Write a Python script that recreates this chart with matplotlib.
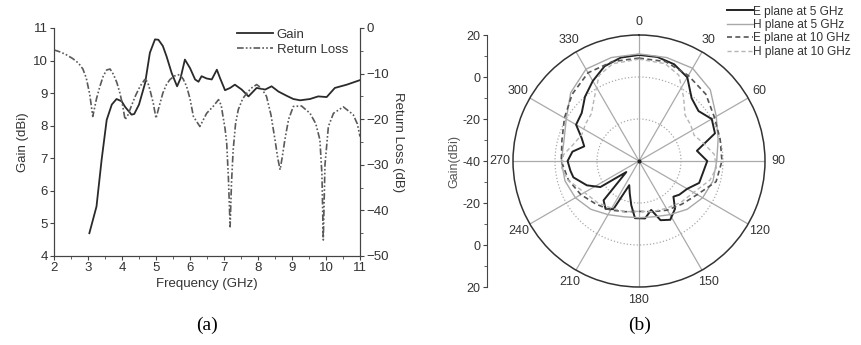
import numpy as np
import matplotlib.pyplot as plt
from matplotlib.ticker import MultipleLocator

plt.rcParams['font.family'] = ['Liberation Sans', 'DejaVu Sans']

# ---- (a) gain and return loss ----
freq_gain = [3.04, 3.25, 3.40, 3.55, 3.70, 3.84, 3.99, 4.09, 4.28, 4.36, 4.50,
             4.68, 4.82, 4.97, 5.07, 5.20, 5.31, 5.46, 5.62, 5.72, 5.85, 6.00,
             6.15, 6.25, 6.34, 6.49, 6.64, 6.79, 6.88, 7.03, 7.18, 7.32, 7.52,
             7.72, 7.96, 8.21, 8.40, 8.60, 8.84, 9.04, 9.24, 9.53, 9.77, 10.02,
             10.26, 10.61, 11.0]
gain = [4.70, 5.52, 6.95, 8.18, 8.65, 8.82, 8.75, 8.58, 8.34, 8.36, 8.65,
        9.31, 10.24, 10.65, 10.64, 10.45, 10.13, 9.62, 9.21, 9.45, 10.03, 9.77,
        9.42, 9.35, 9.52, 9.45, 9.42, 9.72, 9.47, 9.09, 9.16, 9.26, 9.11,
        8.90, 9.16, 9.11, 9.21, 9.05, 8.92, 8.82, 8.78, 8.82, 8.90, 8.88,
        9.16, 9.26, 9.40]

freq_rl = [2.0, 2.2, 2.37, 2.55, 2.72, 2.85, 2.95, 3.05, 3.14, 3.25, 3.35, 3.45,
           3.55, 3.65, 3.75, 3.85, 3.94, 4.02, 4.09, 4.18, 4.27, 4.40, 4.53,
           4.67, 4.75, 4.82, 4.92, 5.0, 5.1, 5.2, 5.3, 5.41, 5.55, 5.7, 5.8,
           5.9, 6.0, 6.1, 6.29, 6.49, 6.68, 6.84, 6.92, 6.97, 7.03, 7.08,
           7.13, 7.18, 7.22, 7.27, 7.34, 7.42, 7.55, 7.67, 7.8, 7.96, 8.1,
           8.25, 8.38, 8.5, 8.58, 8.65, 8.72, 8.79, 8.9, 9.04, 9.28, 9.53,
           9.7, 9.82, 9.88, 9.92, 9.97, 10.07, 10.22, 10.51, 10.8, 10.92, 11.0]
rl = [-4.8, -5.3, -5.9, -6.7, -7.7, -9.0, -11.0, -14.5, -19.4, -15.5, -12.8, -10.5,
      -9.2, -9.0, -10.2, -12.0, -14.3, -17.0, -20.1, -19.0, -17.2, -14.8, -12.8,
      -11.3, -11.8, -13.5, -16.5, -19.8, -17.0, -14.3, -12.5, -11.3, -10.5, -10.2, -11.2,
      -12.8, -15.5, -19.4, -21.6, -18.7, -17.2, -15.7, -17.0, -19.4, -22.0, -25.3,
      -33.0, -43.6, -34.0, -26.7, -21.0, -17.9, -15.5, -14.3, -13.2, -12.4, -13.2,
      -15.0, -19.0, -24.5, -28.5, -31.1, -28.0, -24.5, -20.0, -17.2, -17.1, -18.7,
      -21.0, -24.5, -32.0, -46.5, -30.0, -21.6, -18.7, -17.3, -19.0, -21.0, -23.8]

# ---- (b) radiation patterns ----
ang_e5 = [0, 10, 20, 30, 40, 50, 60, 70, 80, 90, 100, 110, 120, 130, 136, 143,
          152, 160, 166, 174, 184, 190, 196, 202, 208, 215, 222, 229, 236, 245,
          256, 262, 270, 278, 285, 292, 300, 310, 320, 330, 340, 350, 360]
e5 = [10.5, 10.3, 9.0, 6.0, -1.0, -3.0, 0.0, -1.5, -12.0, -7.5, -9.0, -9.5,
      -13.5, -15.0, -16.4, -11.5, -8.3, -10.0, -16.0, -12.5, -12.7, -18.7,
      -24.0, -27.6, -14.0, -12.2, -14.8, -32.0, -17.8, -12.6, -7.8, -7.0,
      -6.0, -8.0, -13.0, -10.5, -5.4, -4.4, 0.0, 4.0, 8.0, 10.0, 10.5]

ang_h5 = [0, 15, 30, 45, 60, 75, 90, 105, 120, 135, 150, 165, 180, 195, 210,
          225, 240, 255, 270, 285, 300, 315, 330, 345, 360]
h5 = [11.0, 11.0, 11.0, 8.0, 2.5, -1.0, -3.0, -3.5, -5.0, -7.5, -10.5, -12.5,
      -13.0, -12.5, -10.5, -7.5, -5.0, -3.5, -3.0, -3.0, 0.0, 6.0, 10.5, 11.0, 11.0]

ang_e10 = [0, 15, 30, 45, 60, 75, 90, 105, 120, 135, 150, 165, 180, 195, 210,
           225, 240, 255, 270, 285, 300, 315, 330, 345, 360]
e10 = [9.0, 9.0, 7.0, 5.0, 1.5, 0.0, -0.5, -2.0, -8.0, -11.0, -13.0, -15.0,
       -16.0, -15.0, -13.0, -11.0, -8.0, -5.2, -3.0, -2.0, 1.0, 5.0, 8.5, 9.0, 9.0]

ang_h10 = [0, 15, 25, 35, 45, 55, 65, 75, 85, 95, 105, 120, 135, 150, 165, 180,
           195, 210, 225, 240, 255, 265, 275, 285, 295, 305, 315, 325, 335, 345, 360]
h10 = [8.5, 8.0, 5.0, -3.0, -9.0, -10.0, -11.0, -8.0, -4.0, -3.0, -5.0, -10.0,
       -12.0, -14.0, -15.0, -16.0, -15.0, -14.0, -12.0, -10.0, -5.0, -3.0, -4.0,
       -8.0, -10.0, -9.0, -8.0, -3.0, 5.0, 8.0, 8.5]

r_ticks = [20, 0, -20, -40, -20, 0, 20]
theta_labels = ['0', '30', '60', '90', '120', '150', '180', '210', '240', '270', '300', '330']

W, H = 862, 345
fig = plt.figure(figsize=(W / 100, H / 100), dpi=100)
txt = '#333333'
fs = 9.5

ax = fig.add_axes([54 / W, 1 - 256 / H, 306 / W, 228 / H])
ax.plot(freq_gain, gain, color='#2a2a2a', lw=1.3, label='Gain')
ax.set_xlim(2, 11)
ax.set_ylim(4, 11)
ax.xaxis.set_major_locator(MultipleLocator(1))
ax.xaxis.set_minor_locator(MultipleLocator(0.5))
ax.yaxis.set_major_locator(MultipleLocator(1))
ax.set_xlabel('Frequency (GHz)', fontsize=fs, color=txt, labelpad=3)
ax.set_ylabel('Gain (dBi)', fontsize=fs, color=txt, labelpad=3)
ax.spines['top'].set_visible(False)

ax2 = ax.twinx()
ax2.plot(freq_rl, rl, color='#5a5a5a', lw=1.2,
         linestyle=(0, (4, 1.3, 1, 1.3, 1, 1.3)), label='Return Loss')
ax2.set_ylim(-50, 0)
ax2.yaxis.set_major_locator(MultipleLocator(10))
ax2.yaxis.set_minor_locator(MultipleLocator(5))
ax2.set_ylabel('Return Loss (dB)', fontsize=fs, color=txt, rotation=-90, labelpad=11)
ax2.spines['top'].set_visible(False)

for a in (ax, ax2):
    for s in a.spines.values():
        s.set_color('#444444')
    a.tick_params(which='both', direction='out', colors='#444444', labelsize=fs,
                  labelcolor=txt, pad=1.5)
    a.tick_params(which='major', length=3)
    a.tick_params(which='minor', length=2)

h1, l1 = ax.get_legend_handles_labels()
h2, l2 = ax2.get_legend_handles_labels()
ax2.legend(h1 + h2, l1 + l2, loc='upper right', bbox_to_anchor=(1.0, 1.05),
           frameon=False, fontsize=fs, handlelength=2.7, handletextpad=0.3,
           labelspacing=0.2, labelcolor=txt)

# polar
R = 126
cx, cy = 639, 161
pax = fig.add_axes([(cx - R) / W, (H - cy - R) / H, 2 * R / W, 2 * R / H],
                   projection='polar')
pax.set_theta_zero_location('N')
pax.set_theta_direction(-1)
pax.set_ylim(-40, 20)
pax.set_yticks([-20, 0])
pax.set_yticklabels([])
pax.yaxis.grid(True, color='#aaaaaa', linestyle=':', lw=0.9)
pax.set_xticks(np.deg2rad(np.arange(0, 360, 30)))
pax.set_xticklabels(theta_labels, fontsize=9, color=txt)
pax.xaxis.grid(True, color='#aaaaaa', linestyle='-', lw=0.9)
pax.tick_params(axis='x', pad=-1)
pax.spines['polar'].set_color('#333333')
pax.spines['polar'].set_linewidth(1.1)

pax.plot(np.deg2rad(ang_e5), e5, color='#222222', lw=1.4, label='E plane at 5 GHz')
pax.plot(np.deg2rad(ang_h5), h5, color='#a8a8a8', lw=1.0, label='H plane at 5 GHz')
pax.plot(np.deg2rad(ang_e10), e10, color='#555555', lw=1.2, linestyle=(0, (3, 2)),
         label='E plane at 10 GHz')
pax.plot(np.deg2rad(ang_h10), h10, color='#b5b5b5', lw=1.0, linestyle=(0, (3, 2)),
         label='H plane at 10 GHz')
pax.plot([0], [-40], 'o', color='#222222', ms=2)

fig.legend(*pax.get_legend_handles_labels(), loc='upper right',
           bbox_to_anchor=(1.0, 1.015), frameon=False, fontsize=8.6,
           handlelength=2.2, handletextpad=0.0, labelspacing=0.12, labelcolor=txt)

# left radial scale
rax = fig.add_axes([487 / W, (H - cy - R) / H, 0.001, 2 * R / H])
rax.set_ylim(-60, 60)
rax.set_yticks(np.arange(-60, 61, 20))
rax.set_yticklabels([str(v) for v in r_ticks])
rax.yaxis.set_minor_locator(MultipleLocator(10))
rax.set_xticks([])
for s in ('top', 'right', 'bottom'):
    rax.spines[s].set_visible(False)
rax.spines['left'].set_color('#444444')
rax.tick_params(which='both', direction='out', colors='#444444', labelsize=9,
                labelcolor=txt, pad=1.5)
rax.tick_params(which='major', length=3)
rax.tick_params(which='minor', length=2)
rax.set_ylabel('Gain(dBi)', fontsize=9, color='#555555', labelpad=2)

fig.text(207 / W, 1 - 325 / H, '(a)', ha='center', va='center', fontsize=14,
         family='Liberation Serif')
fig.text(640 / W, 1 - 325 / H, '(b)', ha='center', va='center', fontsize=14,
         family='Liberation Serif')

fig.savefig('out.png', dpi=100)
